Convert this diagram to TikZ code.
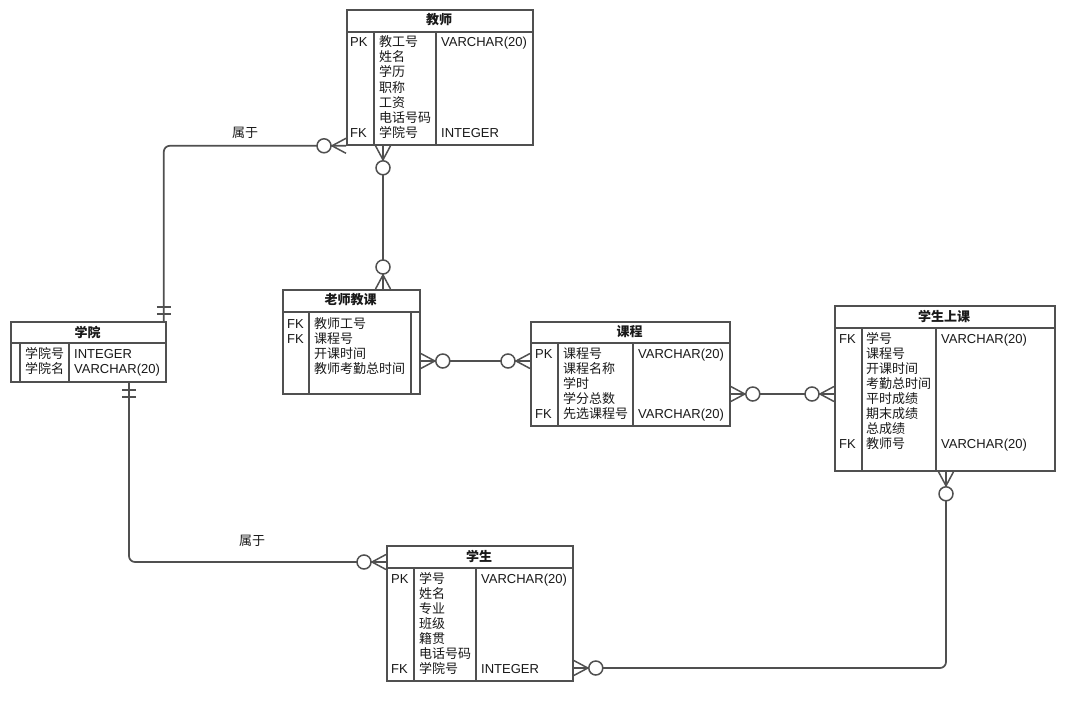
\documentclass[tikz,border=0pt]{standalone}
\usepackage{fontspec}
\setmainfont{Liberation Sans}
\newfontfamily\cjk{Noto Sans CJK SC}
\usetikzlibrary{calc}
\definecolor{ln}{RGB}{80,80,80}
\definecolor{tx}{RGB}{25,25,25}
\tikzset{
 tbl/.style={draw=ln, line width=1.8pt, fill=white, inner sep=0pt, anchor=north west},
 sepl/.style={draw=ln, line width=1.8pt},
 txt/.style={anchor=west, inner sep=0pt, text height=12pt, text depth=2pt, text=tx, font=\fontsize{13}{15}\selectfont},
 ctxt/.style={txt, font=\cjk\fontsize{13}{15}\selectfont},
 hdr/.style={inner sep=0pt, text=tx, font=\cjk\bfseries\fontsize{13}{15}\selectfont},
 conn/.style={draw=ln, line width=1.7pt, rounded corners=6pt},
 lbl/.style={inner sep=0pt, text=tx, font=\cjk\fontsize{13}{15}\selectfont},
 many/.pic={\draw[ln, line width=1.5pt] (0,7.5) -- (14,0) -- (0,-7.5);
            \draw[ln, line width=1.5pt, fill=white] (22,0) circle[radius=7pt];},
 bars/.pic={\draw[ln, line width=1.5pt] (7,-7) -- (7,7) (14,-7) -- (14,7);}
}
\newcommand\rowsat[5]{\foreach \t [count=\i from 0] in {#5} {\node[#3] (#4\i) at (#1,{#2+15*\i}) {\t};}}
\begin{document}
\begin{tikzpicture}[x=1pt,y=-1pt]
\fill[white] (0,0) rectangle (1091,725);
\useasboundingbox (0,0) rectangle (1091,725);

% ---- tables ----
% 教师
\node[tbl, minimum width=186pt, minimum height=135pt] (teacher) at (346,9) {};
\draw[sepl] (346,32) -- (532,32) (374,32) -- (374,144) (436,32) -- (436,144);
\node[hdr] (teacherH) at (439,20) {教师};
\rowsat{350}{42}{txt}{tk}{PK,,,,,,FK}
\rowsat{379}{42}{ctxt}{tn}{教工号,姓名,学历,职称,工资,电话号码,学院号}
\rowsat{441}{42}{txt}{tt}{VARCHAR(20),,,,,,INTEGER}

% 学院
\node[tbl, minimum width=155pt, minimum height=60pt] (college) at (10,321) {};
\draw[sepl] (10,343) -- (165,343) (20,343) -- (20,381) (69,343) -- (69,381);
\node[hdr] (collegeH) at (87.5,332) {学院};
\rowsat{25}{353}{ctxt}{cn}{学院号,学院名}
\rowsat{74}{353}{txt}{ct}{INTEGER,VARCHAR(20)}

% 老师教课
\node[tbl, minimum width=137pt, minimum height=104pt] (teach) at (282,289) {};
\draw[sepl] (282,312) -- (419,312) (309,312) -- (309,393) (411,312) -- (411,393);
\node[hdr] (teachH) at (350.5,300) {老师教课};
\rowsat{287}{323}{txt}{ek}{FK,FK}
\rowsat{314}{323}{ctxt}{en}{教师工号,课程号,开课时间,教师考勤总时间}

% 课程
\node[tbl, minimum width=199pt, minimum height=104pt] (course) at (530,321) {};
\draw[sepl] (530,343) -- (729,343) (558,343) -- (558,425) (633,343) -- (633,425);
\node[hdr] (courseH) at (629.5,332) {课程};
\rowsat{535}{353}{txt}{rk}{PK,,,,FK}
\rowsat{563}{353}{ctxt}{rn}{课程号,课程名称,学时,学分总数,先选课程号}
\rowsat{638}{353}{txt}{rt}{VARCHAR(20),,,,VARCHAR(20)}

% 学生上课
\node[tbl, minimum width=220pt, minimum height=165pt] (attend) at (834,305) {};
\draw[sepl] (834,328) -- (1054,328) (862,328) -- (862,470) (936,328) -- (936,470);
\node[hdr] (attendH) at (944,316) {学生上课};
\rowsat{839}{338}{txt}{ak}{FK,,,,,,,FK}
\rowsat{866}{338}{ctxt}{an}{学号,课程号,开课时间,考勤总时间,平时成绩,期末成绩,总成绩,教师号}
\rowsat{941}{338}{txt}{at}{VARCHAR(20),,,,,,,VARCHAR(20)}

% 学生
\node[tbl, minimum width=186pt, minimum height=135pt] (student) at (386,545) {};
\draw[sepl] (386,568) -- (572,568) (414,568) -- (414,680) (476,568) -- (476,680);
\node[hdr] (studentH) at (479,556) {学生};
\rowsat{391}{578}{txt}{sk}{PK,,,,,,FK}
\rowsat{419}{578}{ctxt}{sn}{学号,姓名,专业,班级,籍贯,电话号码,学院号}
\rowsat{481}{578}{txt}{st}{VARCHAR(20),,,,,,INTEGER}

% ---- connection points ----
\coordinate (p1a) at (teacher.south west);
\coordinate (p1b) at ($(college.north east)+(-3,0)$);
\coordinate (p2a) at ($(college.south west)+(119,0)$);
\coordinate (p2b) at ($(student.north west)+(0,17)$);
\coordinate (p3a) at ($(teacher.south west)+(37,0)$);
\coordinate (p3b) at ($(teach.north west)+(101,0)$);
\coordinate (p4a) at ($(teach.north east)+(0,72)$);
\coordinate (p4b) at ($(course.north west)+(0,40)$);
\coordinate (p5a) at ($(course.north east)+(0,73)$);
\coordinate (p5b) at ($(attend.north west)+(0,89)$);
\coordinate (p6a) at ($(attend.south west)+(112,0)$);
\coordinate (p6b) at ($(student.north east)+(0,123)$);

% ---- connectors ----
\draw[conn] (p1a) -| (p1b);
\draw[conn] (p2a) |- (p2b);
\draw[conn] (p3a) -- (p3b);
\draw[conn] (p4a) -- (p4b);
\draw[conn] (p5a) -- (p5b);
\draw[conn] (p6a) |- (p6b);

\node[lbl] (l1) at (245,133) {属于};
\node[lbl] (l2) at (252,541) {属于};

% ---- ends ----
\pic[rotate=180] at (p1a) {many};
\pic[rotate=90] at (p1b) {bars};
\pic[rotate=-90] at (p2a) {bars};
\pic[rotate=180] at (p2b) {many};
\pic[rotate=-90] at (p3a) {many};
\pic[rotate=90] at (p3b) {many};
\pic at (p4a) {many};
\pic[rotate=180] at (p4b) {many};
\pic at (p5a) {many};
\pic[rotate=180] at (p5b) {many};
\pic[rotate=-90] at (p6a) {many};
\pic at (p6b) {many};
\end{tikzpicture}
\end{document}
